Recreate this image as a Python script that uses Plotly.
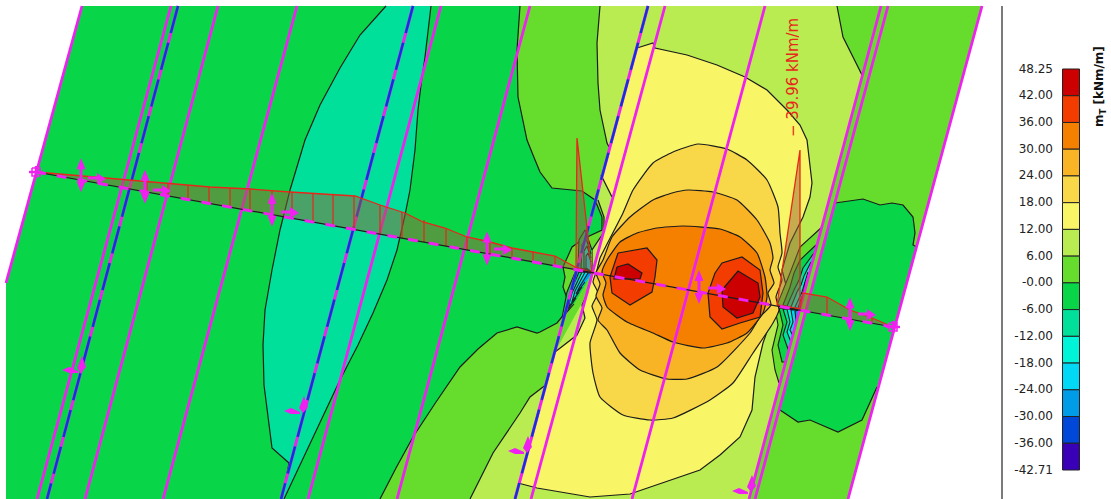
import plotly.graph_objects as go

# colour scale (top to bottom) and its labels
SCALE_LABELS = ["48.25","42.00","36.00","30.00","24.00","18.00","12.00","6.00","-0.00","-6.00",
                "-12.00","-18.00","-24.00","-30.00","-36.00","-42.71"]
SCALE_COLORS = ["#cc0000","#f23c00","#f58000","#f8b424","#f8d748","#f8f566","#b8ec50","#66dd2c",
                "#08d648","#00e09a","#00f5d8","#00d8f5","#009ce8","#0048d8","#3a00b8"]
C = dict(zip(["r","ro","o","lo","ly","y","l","dl","g","t","c","cy","b1","b2","v"], SCALE_COLORS))

# contour traces
SLAB = [(82,6),(982,6),(848,499),(6,499),(6,283)]
L1_LINE = [(520,6),(517,50),(518,97),(527,140),(533,155),(540,172),(552,188),(582,191),(595,200),(602,217),(602,230),
           (585,238),(572,247),(563,267),(565,277),(563,287),(570,307),(557,323),(540,332),(537,333),(517,327),(497,333),(478,349),(460,367),(436,402),(413,437),(396,468),(383,493),(380,499)]
L1_CLOSE = [(848,499),(982,6)]
TEAL_LINE = [(386,6),(360,35),(340,68),(320,105),(305,140),(290,190),(280,230),(272,270),(265,310),(263,345),(264,385),(272,448),(289,463),(282,499)]
TEAL_LINE2 = [(284,499),(312,440),(340,380),(358,345),(373,313),(387,280),(397,250),(405,215),(410,190),(415,150),(418,110),(421,85),(425,57),(431,6)]
LIME_A = [(600,6),(597,43),(598,83),(600,110),(607,143),(609,147)]
LIME_B = [(598,200),(604,217),(604,232),(592,250),(592,273)]
LIME_C = [(555,352),(546,385),(543,387),(530,397),(520,413),(493,453),(470,499)]
LIME_D = [(749,499),(862,75)]
LIME_E = [(862,75),(843,37),(837,6)]
PATCH_A = [(835,203),(863,199),(880,205),(892,203),(903,205),(913,217),(915,233),(913,245),(917,247)]
PATCH_B = [(877,387),(868,407),(862,420),(838,432),(810,420),(798,422),(780,410)]
YELLOW_A = [(637,48),(653,43),(655,48),(687,55),(717,65),(745,77),(767,90),(787,110),(800,125),(807,140),(812,183),(810,197),
            (803,217),(790,243),(782,270),(786,285),(780,300),(776,312),(770,323),(763,343),(755,377),(752,410),(740,437),(720,455),(700,470),(663,483),(630,494),(590,497),(537,488),(518,483)]
YELLOW_B = [(555,352),(577,335),(585,318),(582,305),(588,292)]
YELLOW_C = [(592,273),(612,197),(601,175)]
LEVEL_LY = [(698,144),(727,149),(747,160),(767,180),(778,207),(780,233),(782,253),(778,267),(782,280),(776,297),(779,310),(773,323),(753,353),(733,383),(710,400),
            (673,418),(650,420),(623,415),(600,397),(593,373),(590,343),(597,320),(592,306),(598,293),(593,282),(597,270),(600,258),(605,248),(623,213),(633,190),(653,163),(673,152),(698,144)]
LEVEL_LO = [(688,190),(713,192),(737,200),(757,220),(770,243),(773,258),(770,270),(774,283),(768,293),(771,305),(760,317),(750,333),(717,367),(687,379),(667,379),(640,370),
            (620,353),(607,330),(598,320),(602,308),(596,296),(600,284),(596,273),(603,260),(612,237),(630,217),(653,200),(672,193),(688,190)]
LEVEL_O = [(657,228),(683,226),(720,229),(740,237),(757,253),(765,277),(767,297),(763,313),(747,333),(727,343),(703,348),(673,342),(653,333),
           (627,322),(607,307),(603,295),(606,283),(602,272),(607,260),(620,242),(637,233),(657,228)]
LEVEL_RO_L = [(618,253),(647,248),(657,260),(655,277),(652,292),(630,305),(612,293),(610,277),(618,253)]
LEVEL_R_L = [(617,267),(628,264),(642,273),(640,279),(614,279),(617,267)]
LEVEL_RO_R = [(715,273),(722,263),(742,257),(760,270),(763,293),(760,317),(740,323),(722,329),(710,317),(708,293),(715,273)]
LEVEL_R_R = [(722,290),(738,271),(758,283),(760,297),(753,313),(737,318),(723,307),(722,290)]
# steep fans beside the two supports
FAN_LEFT = [("g",[(592,273),(576,270),(567,292),(562,318),(574,304)]),
            ("t",[(592,273),(579,272),(570,293),(565,314),(576,298)]),
            ("c",[(592,273),(582,272),(572,293),(568,308),(579,292)]),
            ("cy",[(592,273),(585,272),(575,291),(572,302),(582,287)]),
            ("b1",[(592,273),(588,273),(580,286),(576,294),(585,282)]),
            ("g",[(592,272),(578,268),(579,240),(585,230),(592,250)]),
            ("t",[(592,272),(581,268),(582,245),(586,238),(591,254)]),
            ("c",[(592,272),(584,268),(584,251),(587,246),(591,258)]),
            ("cy",[(592,272),(586,268),(586,256),(588,253),(591,262)])]
FAN_RIGHT = [("dl",[(822,227),(800,247),(790,273),(782,293),(777,305),(799,310)]),
             ("g",[(816,245),(800,260),(794,273),(790,287),(783,305),(799,310)]),
             ("t",[(814,253),(803,268),(799,280),(794,290),(787,306),(799,310)]),
             ("c",[(811,262),(804,276),(801,285),(797,292),(791,307),(799,310)]),
             ("cy",[(808,272),(805,282),(802,292),(795,307),(799,310)]),
             ("b1",[(805,282),(803,294),(798,308),(799,310)]),
             ("dl",[(799,310),(775,308),(778,325),(772,350),(775,370),(779,383)]),
             ("g",[(799,310),(779,308),(783,325),(778,345),(782,362),(785,362)]),
             ("t",[(799,310),(783,309),(787,322),(783,335),(788,349),(790,347)]),
             ("c",[(799,310),(787,309),(790,322),(787,332),(791,342)]),
             ("cy",[(799,310),(791,310),(793,322),(790,330),(793,336)]),
             ("b1",[(799,310),(795,311),(796,320),(795,326)])]
# slab lines: top and bottom ends
PLAIN_LINES = [[(82,6),(6,283)],[(171,6),(37,499)],[(218,6),(85,499)],[(297,6),(163,499)],[(441,6),(308,499)],[(530,6),(397,499)],
               [(665,6),(531,499)],[(765,6),(632,499)],[(881,6),(749,499)],[(888,6),(755,499)],[(982,6),(848,499)]]
BLUE_LINES = [[(178,6),(47,499)],[(413,6),(281,499)],[(648,6),(515,499)]]
# section and its moment diagram
SECTION = [(36,172),(893,327)]
SECTION_SLOPE = 0.1809
DIAG_A = [(36,172),(97,177),(128,180),(168,183),(210,187),(250,189),(290,192),(355,196),(380,205),(405,213),(423,222),(445,228),(467,237),
          (490,242),(512,248),(533,252),(555,256),(577,268)]
SPIKE_L = [(576,267),(577,138),(592,273)]
SPIKE_R = [(777,305),(800,150),(800,309)]
DIAG_B = [(800,308),(803,293),(827,297),(850,310),(872,318),(893,327)]
STATION_X = [147,168,188,209,230,250,272,292,313,333,354,380,402,424,446,467,490,512,533,555,827,850,872]
STATION_TOP = [180,183,185,187,188,189,191,192,193,195,196,205,212,220,228,237,242,248,252,256,297,310,318]
# load arrows
ARROW_X = [81,145,272,487,699,850]
HARROW = [(97,178),(162,190),(290,212),(503,249),(717,288),(867,314)]
LOW_ARROWS = [(70,370,81,365),(292,411,303,405),(516,451,527,445),(740,491,751,484)]
VALUE_LABEL = "− 39.96 kNm/m"
SCALE_TITLE = "m<sub>T</sub> [kNm/m]"

def xs(p): return [a for a, _ in p]
def ys(p): return [b for _, b in p]
def sec(x): return SECTION[0][1] + (x - SECTION[0][0]) * SECTION_SLOPE

fig = go.Figure()
BLK = "#1c1c1c"
def fill(p, col, shape="linear"):
    fig.add_trace(go.Scatter(x=xs(p)+[p[0][0]], y=ys(p)+[p[0][1]], mode="lines", fill="toself", fillcolor=col,
                             line=dict(width=0, shape=shape, smoothing=0.5), hoverinfo="skip"))
def line(p, col=BLK, w=1.2, dash=None, shape="linear"):
    fig.add_trace(go.Scatter(x=xs(p), y=ys(p), mode="lines", line=dict(color=col, width=w, dash=dash, shape=shape, smoothing=0.5), hoverinfo="skip"))

fill(SLAB, C["g"])
fill(L1_LINE + L1_CLOSE, C["dl"]); line(L1_LINE)
fill(TEAL_LINE + TEAL_LINE2, C["t"]); line(TEAL_LINE); line(TEAL_LINE2)
fill(LIME_A + LIME_B + YELLOW_B[::-1][:1] + LIME_C + LIME_D + LIME_E, C["l"])
for p in (LIME_A, LIME_B, LIME_C, LIME_E): line(p)
fill(PATCH_A + PATCH_B, C["g"]); line(PATCH_A); line(PATCH_B)
fill(YELLOW_A + YELLOW_B + YELLOW_C, C["y"])
line(YELLOW_A); line(YELLOW_B); line(YELLOW_C[1:])
for key, pts in FAN_LEFT + FAN_RIGHT:
    fill(pts, C[key]); line(pts, w=1.1)
for key, pts in (("ly",LEVEL_LY),("lo",LEVEL_LO),("o",LEVEL_O)):
    fill(pts, C[key], "spline"); line(pts, shape="spline")
for key, pts in (("ro",LEVEL_RO_L),("r",LEVEL_R_L),("ro",LEVEL_RO_R),("r",LEVEL_R_R)):
    fill(pts, C[key]); line(pts)

MAG = "#f020f0"
for p in PLAIN_LINES: line(p, MAG, 2.8)
for p in BLUE_LINES:
    line(p, MAG, 3); line(p, "#0f30e0", 2.4, "28px,10px")

# moment diagram
shade = "rgba(150,100,55,0.5)"
RED = "#e8261a"
for top in (DIAG_A, DIAG_B):
    a, b = top[0][0], top[-1][0]
    fill(top + [(b, sec(b)), (a, sec(a))], shade); line(top, RED, 1.3)
for sp in (SPIKE_L, SPIKE_R):
    fill(sp, shade); line(sp + [sp[0]], RED, 1.3)
for x, t in zip(STATION_X, STATION_TOP):
    line([(x, t), (x, sec(x))], RED, 1.2)
line(SECTION, BLK, 1.2)
line(SECTION, MAG, 3, "10px,11px")

# arrows, as small filled heads on short shafts
for x in ARROW_X:
    y = sec(x) - 5
    line([(x, y-10), (x, y+10)], MAG, 3)
    fill([(x, y-17), (x+4.5, y-6), (x-4.5, y-6)], MAG)
    fill([(x, y+17), (x+4.5, y+6), (x-4.5, y+6)], MAG)
for x, y in HARROW:
    line([(x-9, y), (x+2, y)], MAG, 3)
    fill([(x+9, y+1), (x, y-5), (x, y+6)], MAG)
for x1, y1, x2, y2 in LOW_ARROWS:
    fill([(x1-8, y1), (x1-1, y1-3), (x1+8, y1+1), (x1+8, y1+3), (x1-1, y1+3)], MAG)
    fill([(x2+1, y2-9), (x2+5, y2+2), (x2, y2+8), (x2-4, y2+3)], MAG)
for x, y in SECTION:
    line([(x-7, y), (x+7, y)], MAG, 2.4)
    line([(x, y-6), (x, y+6)], MAG, 2.4)
    line([(x-4, y-4), (x+4, y-4), (x+4, y+4), (x-4, y+4), (x-4, y-4)], MAG, 1.5)

# divider and colour scale
line([(1002,6),(1002,499)], "#222222", 1.2)
BAR_TOP, BAR_BOTTOM, BAR_X = 69.0, 470.0, 1071
step = (BAR_BOTTOM - BAR_TOP) / len(SCALE_COLORS)
fig.add_trace(go.Bar(x=[BAR_X]*len(SCALE_COLORS), y=[step]*len(SCALE_COLORS),
                     base=[BAR_TOP + i*step for i in range(len(SCALE_COLORS))], width=17,
                     marker=dict(color=SCALE_COLORS, line=dict(color="#222222", width=1)), hoverinfo="skip"))
fig.add_trace(go.Scatter(x=[1053]*len(SCALE_LABELS), y=[BAR_TOP + 0.5 + i*step for i in range(len(SCALE_LABELS))],
                         text=SCALE_LABELS, mode="text", textposition="middle left",
                         textfont=dict(family="DejaVu Sans", size=12, color="#222222"), hoverinfo="skip"))

fig.add_annotation(x=1100, y=87, text="<b>"+SCALE_TITLE+"</b>", textangle=-90, showarrow=False,
                   font=dict(family="DejaVu Sans", size=12, color="#111111"))
fig.add_annotation(x=793, y=78, text=VALUE_LABEL, textangle=-90, showarrow=False,
                   font=dict(family="DejaVu Sans", size=15, color="#e8261a"))

fig.update_layout(width=1111, height=499, margin=dict(l=0,r=0,t=0,b=0), showlegend=False, barmode="overlay",
                  paper_bgcolor="white", plot_bgcolor="white",
                  xaxis=dict(range=[0,1111], visible=False, fixedrange=True),
                  yaxis=dict(range=[499,0], visible=False, fixedrange=True))
fig.write_html("out.html", config=dict(displayModeBar=False),
               post_script="document.body.style.margin='0';document.body.style.overflow='hidden';")
